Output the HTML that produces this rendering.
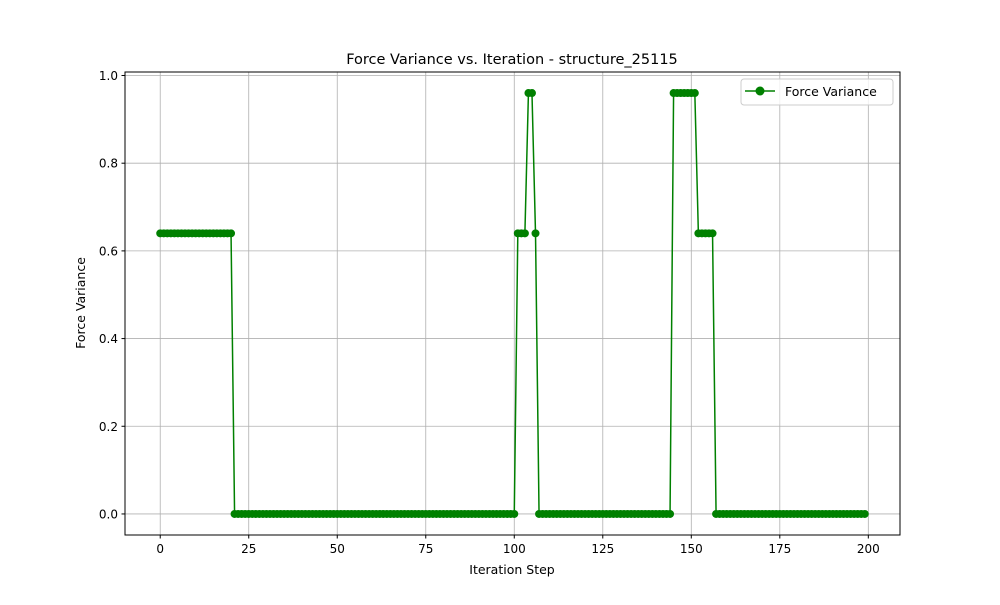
<!DOCTYPE html>
<html><head><meta charset="utf-8"><style>
body{margin:0;background:#fff;font-family:"Liberation Sans","DejaVu Sans",sans-serif}
</style></head><body>
<svg id="chart" width="1000" height="600" xmlns="http://www.w3.org/2000/svg" font-family="DejaVu Sans, Liberation Sans, sans-serif">
<rect width="1000" height="600" fill="#fff"/>
<g id="grid"></g>
<g id="series"></g>
<rect x="125" y="72" width="775" height="463" fill="none" stroke="#000" stroke-width="1"/>
<g id="ticks" font-size="12"></g>
<text x="512" y="64" text-anchor="middle" font-size="14.5">Force Variance vs. Iteration - structure_25115</text>
<text x="512" y="574" text-anchor="middle" font-size="12.5">Iteration Step</text>
<text x="85" y="303" text-anchor="middle" font-size="12.5" transform="rotate(-90 85 303)">Force Variance</text>
<g>
<rect x="741" y="79" width="152" height="26" rx="3" fill="#fff" fill-opacity="0.8" stroke="#ccc"/>
<line x1="745" y1="91" x2="775" y2="91" stroke="#008000" stroke-width="1.5"/>
<circle cx="760" cy="91" r="4.5" fill="#008000"/>
<text x="785" y="96" font-size="12.5">Force Variance</text>
</g>
</svg>
<script>
const steps = Array.from({length:200},(_,i)=>i);
const segments = [[0,20,0.64],[21,100,0],[101,103,0.64],[104,105,0.96],[106,106,0.64],[107,144,0],[145,151,0.96],[152,156,0.64],[157,199,0]];
const xTicks = [0,25,50,75,100,125,150,175,200];
const yTicks = [0.0,0.2,0.4,0.6,0.8,1.0];
const values = steps.map(s=>{for(const g of segments){if(s>=g[0]&&s<=g[1])return g[2];}return 0;});
const L=125,R=900,T=72,B=535,xmin=-9.95,xmax=208.95,ymin=-0.048,ymax=1.008;
const sx=v=>L+(v-xmin)/(xmax-xmin)*(R-L);
const sy=v=>B-(v-ymin)/(ymax-ymin)*(B-T);
const NS="http://www.w3.org/2000/svg";
const grid=document.getElementById('grid'),ticks=document.getElementById('ticks'),ser=document.getElementById('series');
function mk(tag,attrs,parent){const e=document.createElementNS(NS,tag);for(const k in attrs)e.setAttribute(k,attrs[k]);parent.appendChild(e);return e;}
xTicks.forEach(t=>{const x=sx(t);
 const gl=mk('line',{x1:x,x2:x,y1:T,y2:B,stroke:'#b0b0b0','stroke-width':0.8},grid);
 
 
 mk('line',{x1:x,x2:x,y1:B,y2:B+3.5,stroke:'#000'},ticks);
 const tx=mk('text',{x:x,y:B+18,'text-anchor':'middle'},ticks);tx.textContent=t;
 
 });
yTicks.forEach(t=>{const y=sy(t);
 const gl=mk('line',{x1:L,x2:R,y1:y,y2:y,stroke:'#b0b0b0','stroke-width':0.8},grid);
 
 
 mk('line',{x1:L-3.5,x2:L,y1:y,y2:y,stroke:'#000'},ticks);
 const tx=mk('text',{x:L-7,y:y+4.5,'text-anchor':'end'},ticks);tx.textContent=t.toFixed(1);
 
 });
const pts=steps.map((s,i)=>sx(s)+','+sy(values[i])).join(' ');
const pl=mk('polyline',{points:pts,fill:'none',stroke:'#008000','stroke-width':1.5},ser);


steps.forEach((s,i)=>{const c=mk('circle',{cx:sx(s),cy:sy(values[i]),r:4,fill:'#008000'},ser);
 
 });
</script>
</body></html>
